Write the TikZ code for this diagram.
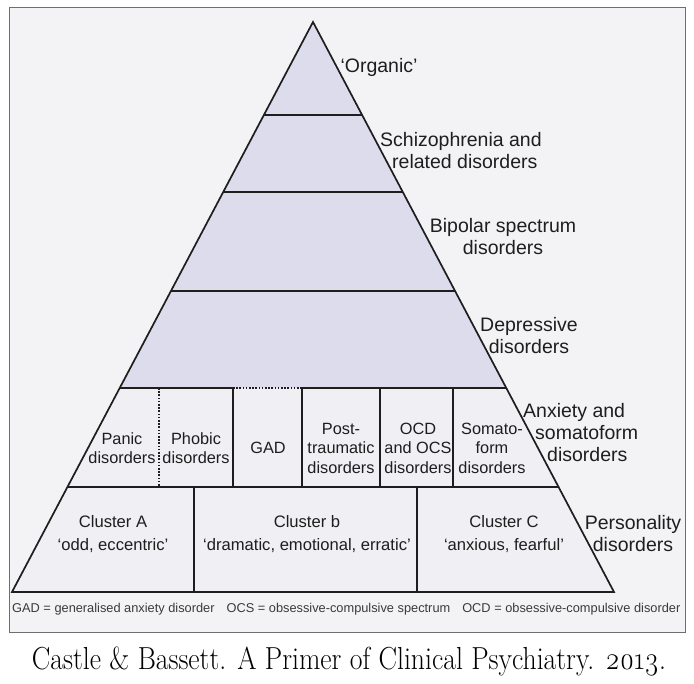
\documentclass[tikz,border=0pt]{standalone}
\usepackage{fontspec}
\usepackage{graphicx}
\setsansfont{Liberation Sans}
\newfontfamily\capfont[Numbers=OldStyle]{Latin Modern Roman}
\usepackage{tikz}
\usetikzlibrary{
	positioning,
	calc
}

\definecolor{tierup}{HTML}{DCDCEC}
\definecolor{tierlow}{HTML}{EFEFF4}
\definecolor{bgpanel}{HTML}{F3F3F5}
\definecolor{framegrey}{HTML}{6E6E6E}
\definecolor{ink}{HTML}{1E1E1E}
\definecolor{notegrey}{HTML}{3A3A3A}

\begin{document}
\begin{tikzpicture}[
			x=1pt, y=-1pt,
			font=\sffamily,
			edge/.style={draw=ink, line width=1.7pt, line join=miter},
			dotline/.style={draw=ink, line width=1.7pt, dash pattern=on 1.6pt off 1.6pt},
			nivel/.style={
					align=center,
					text=ink,
					inner sep=0pt,
					font=\sffamily\fontsize{19.5}{22}\selectfont
				},
			celula/.style={
					align=center,
					text=ink,
					inner sep=0pt,
					font=\sffamily\fontsize{16.3}{19.5}\selectfont
				},
			grupo/.style={
					align=center,
					text=ink,
					inner sep=0pt,
					font=\sffamily\fontsize{16.6}{23}\selectfont
				}
		]
		\useasboundingbox (0,0) rectangle (694,684);
		\draw[framegrey, fill=bgpanel, line width=1pt] (9,8) rectangle (685,632);

		\coordinate (apex) at (313,22);
		\coordinate (bl) at (12,592);
		\coordinate (br) at (614,592);
		\foreach \nm/\t in {o/0.1632, s/0.2982, b/0.4719, d/0.6421, a/0.8158} {
				\coordinate (\nm L) at ($(apex)!\t!(bl)$);
				\coordinate (\nm R) at ($(apex)!\t!(br)$);
			}

		% fills of the tiers
		\fill[tierup] (apex) -- (dL) -- (dR) -- cycle;
		\fill[tierlow] (dL) -- (bl) -- (br) -- (dR) -- cycle;

		% tier lines
		\draw[edge] (oL) -- (oR);
		\draw[edge] (sL) -- (sR);
		\draw[edge] (bL) -- (bR);
		\draw[edge] (dL) -- (233,388);
		\draw[dotline] (233,388) -- (302,388);
		\draw[edge] (302,388) -- (dR);
		\draw[edge] (aL) -- (aR);

		% cells
		\draw[dotline] (159,388) -- (159,487);
		\foreach \xc in {233, 302, 380, 453}
		\draw[edge] (\xc,388) -- (\xc,487);
		\foreach \xc in {194, 417}
		\draw[edge] (\xc,487) -- (\xc,592);

		\draw[edge] (apex) -- (bl) -- (br) -- cycle;

		% labels of the tiers
		\node[nivel] (organic) at (379,67) {`Organic'};
		\node[nivel, align=left, anchor=west] (schizo) at (380,151) {Schizophrenia and\\ \hspace*{12pt}related disorders};
		\node[nivel] (bipolar) at (503,237) {Bipolar spectrum\\ disorders};
		\node[nivel] (depress) at (529,336) {Depressive\\ disorders};
		\node[nivel, align=left, anchor=west] (anxiety) at (523,433) {Anxiety and\\ \hspace*{12pt}somatoform\\ \hspace*{24pt}disorders};
		\node[nivel] (person) at (633,534) {Personality\\ disorders};

		\node[celula] (panic) at (122,448) {Panic\\ disorders};
		\node[celula] (phobic) at (196,448) {Phobic\\ disorders};
		\node[celula] (gad) at (268,448) {GAD};
		\node[celula] (ptsd) at (341,448) {Post-\\ traumatic\\ disorders};
		\node[celula] (ocd) at (418,448) {OCD\\ and OCS\\ disorders};
		\node[celula] (somato) at (492,448) {Somato-\\ form\\ disorders};

		\node[grupo] (clA) at (113,534) {Cluster A\\ `odd, eccentric'};
		\node[grupo] (clB) at (307,534) {Cluster b\\ `dramatic, emotional, erratic'};
		\node[grupo] (clC) at (504,534) {Cluster C\\ `anxious, fearful'};

		\node[anchor=west, inner sep=0pt, text=notegrey, font=\sffamily\fontsize{12.8}{14}\selectfont] (nota) at (12,609)
		{GAD = generalised anxiety disorder\hspace{12pt}OCS = obsessive-compulsive spectrum\hspace{12pt}OCD = obsessive-compulsive disorder};

		\node[inner sep=0pt, text=black, font=\capfont\fontsize{27.7}{30}\selectfont] (fonte) at (349,662)
		{\scalebox{1}[1.15]{Castle \& Bassett. A Primer of Clinical Psychiatry. 2013.}};
	\end{tikzpicture}
\end{document}
